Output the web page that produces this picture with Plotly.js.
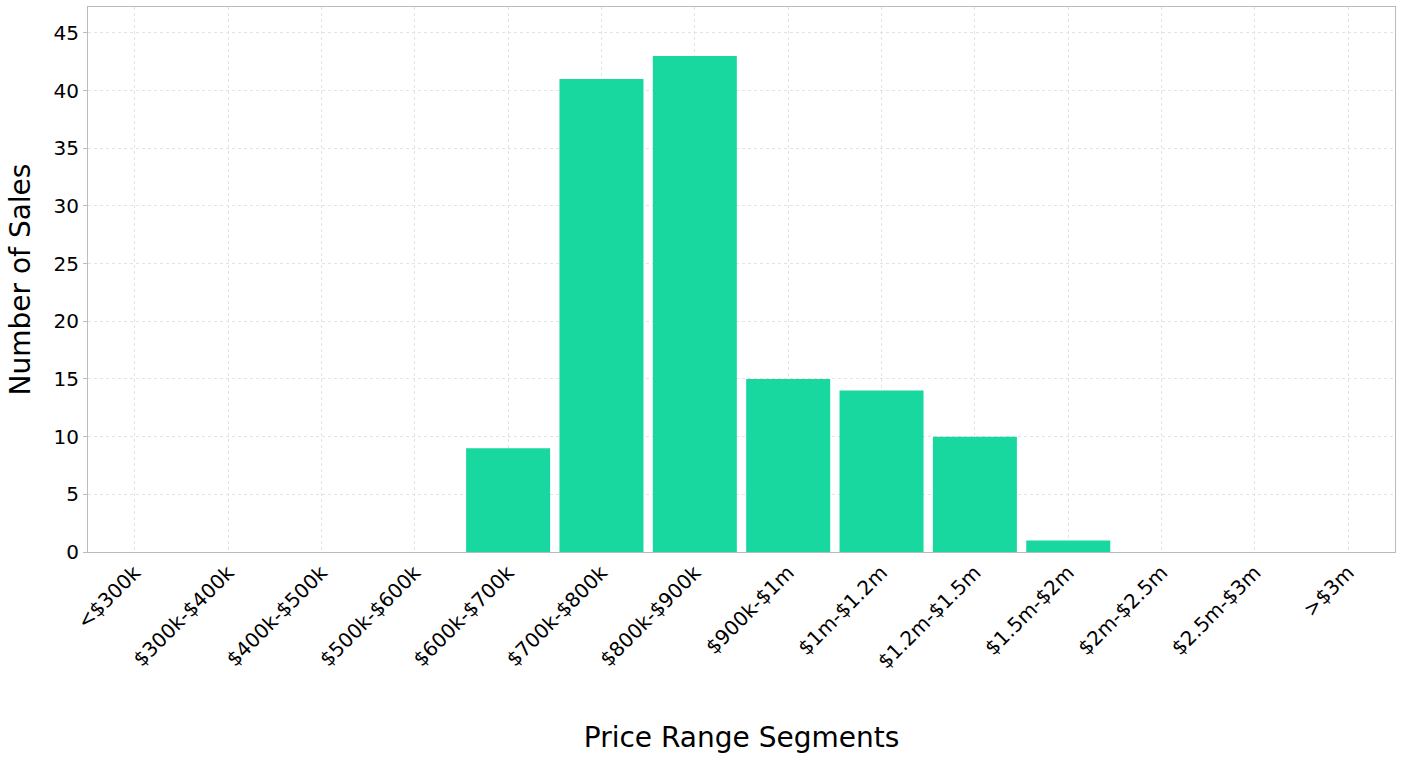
<!DOCTYPE html>
<html>
<head>
<script src="https://cdn.plot.ly/plotly-3.0.1.min.js"></script>
<style>body{margin:0;}</style>
</head>
<body>
<div id="graph" style="width:1403px;height:758px;"></div>
<script>
// DATA
var categories = ['<$300k', '$300k-$400k', '$400k-$500k', '$500k-$600k', '$600k-$700k',
	'$700k-$800k', '$800k-$900k', '$900k-$1m', '$1m-$1.2m', '$1.2m-$1.5m',
	'$1.5m-$2m', '$2m-$2.5m', '$2.5m-$3m', '>$3m'];
var sales = [0, 0, 0, 0, 9, 41, 43, 15, 14, 10, 1, 0, 0, 0];

var trace = {
	x: categories, y: sales,
	type: 'bar',
	marker: {color: '#19d89f'},
	hoverinfo: 'x+y'
};

var layout = {
	font: {family: 'DejaVu Sans', size: 20, color: '#000'},
	margin: {l: 88, r: 8, t: 7, b: 206},
	bargap: 0.1,
	plot_bgcolor: '#fff',
	paper_bgcolor: '#fff',
	showlegend: false,
	xaxis: {
		tickangle: -45,
		showgrid: true, gridcolor: '#e3e3e3', griddash: '3px,3px',
		showline: true, linecolor: '#bbb', mirror: true,
		ticks: '', tickfont: {size: 20},
		title: {text: 'Price Range Segments', font: {size: 28}, standoff: 55}
	},
	yaxis: {
		range: [0, 47.25], dtick: 5,
		showgrid: true, gridcolor: '#e3e3e3', griddash: '3px,3px',
		showline: true, linecolor: '#bbb', mirror: true,
		zeroline: false,
		ticks: 'outside', ticklen: 4, tickcolor: '#bbb',
		tickfont: {size: 20},
		title: {text: 'Number of Sales', font: {size: 28}, standoff: 14}
	}
};

Plotly.newPlot('graph', [trace], layout, {displayModeBar: false});
</script>
</body>
</html>
